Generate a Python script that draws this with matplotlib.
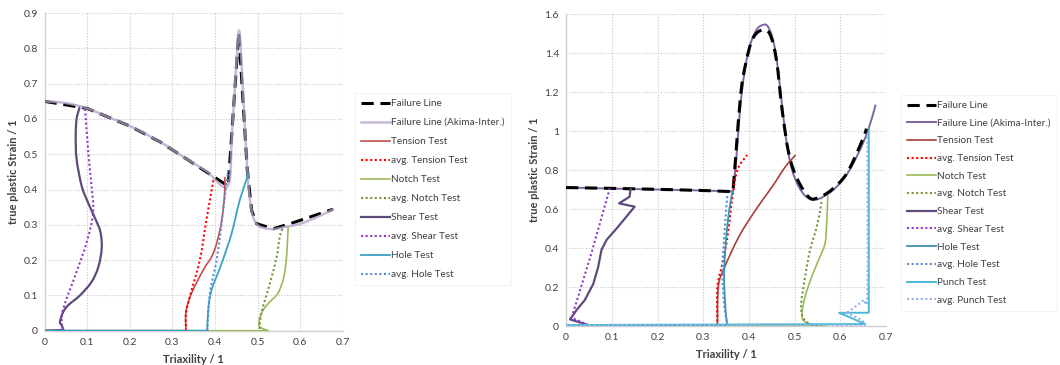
import matplotlib
matplotlib.use("Agg")
import matplotlib.pyplot as plt
from matplotlib.ticker import FuncFormatter, MultipleLocator
from matplotlib.path import Path
from matplotlib.patches import PathPatch

plt.rcParams['font.family'] = ['Lato', 'DejaVu Sans']

# ---------------- left panel data ----------------
L_fail_x = [0, 0.1, 0.2, 0.27, 0.333, 0.423, 0.431, 0.456, 0.476, 0.486, 0.498, 0.537, 0.576, 0.677]
L_fail_y = [0.65, 0.63, 0.58, 0.536, 0.487, 0.416, 0.41, 0.845, 0.454, 0.341, 0.303, 0.289, 0.303, 0.344]

L_akima_x = [0, 0.05, 0.1, 0.15, 0.2, 0.27, 0.333, 0.38, 0.43, 0.44, 0.45, 0.457, 0.465, 0.476, 0.486, 0.5,
             0.52, 0.54, 0.56, 0.6, 0.64, 0.68]
L_akima_y = [0.65, 0.645, 0.63, 0.605, 0.58, 0.536, 0.487, 0.452, 0.41, 0.56, 0.75, 0.85, 0.7, 0.454, 0.34, 0.3,
             0.29, 0.288, 0.293, 0.303, 0.322, 0.345]

L_tension_x = [0, 0.332, 0.332, 0.345, 0.372, 0.396, 0.4115, 0.419, 0.423, 0.423]
L_tension_y = [0, 0, 0.054, 0.106, 0.171, 0.219, 0.284, 0.341, 0.397, 0.435]
L_avg_tension_x = [0.332, 0.332, 0.341, 0.3645, 0.38, 0.397]
L_avg_tension_y = [0, 0.05, 0.097, 0.2, 0.314, 0.431]

L_notch_x = [0, 0.525, 0.5054, 0.504, 0.513, 0.529, 0.548, 0.562, 0.568, 0.570, 0.572]
L_notch_y = [0, 0, 0.011, 0.03, 0.058, 0.082, 0.106, 0.153, 0.209, 0.246, 0.294]
L_avg_notch_x = [0.505, 0.509, 0.529, 0.545, 0.552, 0.56]
L_avg_notch_y = [0.005, 0.05, 0.134, 0.209, 0.265, 0.294]

L_shear_x = [0, 0.044, 0.040, 0.036, 0.044, 0.056, 0.083, 0.110, 0.126, 0.134, 0.131, 0.118, 0.103, 0.087,
             0.075, 0.073, 0.075, 0.081, 0.083]
L_shear_y = [0, 0.002, 0.016, 0.025, 0.054, 0.073, 0.10, 0.138, 0.18, 0.233, 0.28, 0.32, 0.36, 0.41,
             0.487, 0.553, 0.60, 0.628, 0.633]
L_avg_shear_x = [0.044, 0.04, 0.044, 0.075, 0.099, 0.114, 0.110, 0.1025, 0.095]
L_avg_shear_y = [0.002, 0.02, 0.063, 0.167, 0.251, 0.336, 0.411, 0.506, 0.628]

L_hole_x = [0, 0.382, 0.384, 0.392, 0.4155, 0.439, 0.458, 0.480]
L_hole_y = [0, 0, 0.056, 0.115, 0.19, 0.275, 0.369, 0.449]
L_avg_hole_x = [0.382, 0.388, 0.404, 0.4155, 0.423, 0.431]
L_avg_hole_y = [0, 0.106, 0.2, 0.303, 0.378, 0.454]

# ---------------- right panel data ----------------
R_fail_x = [0, 0.1, 0.2, 0.3, 0.365, 0.371, 0.382, 0.393, 0.407, 0.425, 0.445, 0.46, 0.4725, 0.487, 0.505,
            0.53, 0.548, 0.58, 0.614, 0.645, 0.657]
R_fail_y = [0.71, 0.706, 0.701, 0.695, 0.689, 0.868, 1.19, 1.347, 1.467, 1.515, 1.50, 1.364, 1.108, 0.886, 0.757,
            0.663, 0.655, 0.697, 0.783, 0.937, 1.012]

R_akima_x = [0, 0.1, 0.2, 0.3, 0.365, 0.372, 0.38, 0.39, 0.40, 0.41, 0.42, 0.432, 0.44, 0.45, 0.46, 0.47,
             0.48, 0.49, 0.50, 0.51, 0.52, 0.53, 0.54, 0.55, 0.56, 0.58, 0.60, 0.62, 0.64, 0.66, 0.677]
R_akima_y = [0.71, 0.705, 0.70, 0.695, 0.69, 0.85, 1.1, 1.3, 1.42, 1.49, 1.53, 1.545, 1.54, 1.49, 1.38, 1.18,
             0.98, 0.84, 0.76, 0.71, 0.675, 0.655, 0.647, 0.65, 0.66, 0.69, 0.735, 0.80, 0.89, 1.0, 1.135]

R_tension_x = [0, 0.331, 0.333, 0.3457, 0.378, 0.4145, 0.4507, 0.4797, 0.502]
R_tension_y = [0, 0, 0.2015, 0.296, 0.458, 0.595, 0.714, 0.817, 0.877]
R_avg_tension_x = [0.331, 0.331, 0.342, 0.353, 0.364, 0.3746, 0.396]
R_avg_tension_y = [0, 0.2, 0.321, 0.458, 0.663, 0.80, 0.877]

R_notch_x = [0, 0.5667, 0.541, 0.5196, 0.516, 0.523, 0.5377, 0.556, 0.5667, 0.570, 0.572, 0.572]
R_notch_y = [0, 0, 0.005, 0.027, 0.068, 0.153, 0.256, 0.359, 0.427, 0.53, 0.64, 0.672]
R_avg_notch_x = [0.5486, 0.523, 0.514, 0.523, 0.534, 0.5486, 0.558, 0.559]
R_avg_notch_y = [0, 0.026, 0.10, 0.256, 0.393, 0.513, 0.624, 0.65]

R_shear_x = [0, 0.0486, 0.0087, 0.023, 0.041, 0.0594, 0.070, 0.0775, 0.0884, 0.1138, 0.15, 0.116, 0.139,
             0.1406, 0.143]
R_shear_y = [0, 0.005, 0.034, 0.082, 0.133, 0.215, 0.30, 0.39, 0.441, 0.509, 0.612, 0.629, 0.663, 0.697, 0.706]
R_avg_shear_x = [0.0486, 0.0123, 0.0553, 0.0957]
R_avg_shear_y = [0.005, 0.043, 0.372, 0.706]

R_hole_x = [0, 0.353, 0.349, 0.3457, 0.349, 0.3565, 0.364]
R_hole_y = [0, 0, 0.077, 0.248, 0.419, 0.59, 0.689]
R_avg_hole_x = [0.353, 0.3457, 0.342, 0.3457, 0.351, 0.353]
R_avg_hole_y = [0, 0.111, 0.282, 0.453, 0.624, 0.675]

R_punch_x = [0, 0.654, 0.597, 0.662, 0.662]
R_punch_y = [0.005, 0.010, 0.068, 0.068, 1.01]
R_avg_punch_x = [0, 0.654, 0.654, 0.639, 0.612, 0.617, 0.632, 0.65, 0.659, 0.659]
R_avg_punch_y = [0.005, 0.005, 0.015, 0.04, 0.068, 0.073, 0.099, 0.133, 0.185, 0.99]

# ---------------- styling ----------------
C_TEXT = '#404040'
C_FAIL = '#000000'
C_TENSION = '#c0504d'
C_AVG_TENSION = '#ff0000'
C_NOTCH = '#9bbb59'
C_AVG_NOTCH = '#77933c'
C_SHEAR = '#604a7b'
C_AVG_SHEAR = '#8e3cc8'
C_HOLE = '#3aa3c4'
C_AVG_HOLE = '#558ed5'
C_PUNCH = '#4bb8d8'
C_AVG_PUNCH = '#8eb4e3'

DASH = (0, (4.0, 2.2))
DOT = (0, (1, 1.2))


def series(ax, xs, ys, label, color, lw, ls='-', smooth=True, straight=0, zorder=3, alpha=1.0):
    """Draw a series as a smoothed (Catmull-Rom / Bezier) line; the first
    `straight` segments are kept as straight lines."""
    pts = list(zip(xs, ys))
    n = len(pts)
    verts = [pts[0]]
    codes = [Path.MOVETO]
    for i in range(n - 1):
        p1, p2 = pts[i], pts[i + 1]
        if not smooth or i < straight:
            verts.append(p2)
            codes.append(Path.LINETO)
            continue
        p0 = pts[i - 1] if i - 1 >= straight else p1
        p3 = pts[i + 2] if i + 2 < n else p2
        c1 = (p1[0] + (p2[0] - p0[0]) / 6.0, p1[1] + (p2[1] - p0[1]) / 6.0)
        c2 = (p2[0] - (p3[0] - p1[0]) / 6.0, p2[1] - (p3[1] - p1[1]) / 6.0)
        verts += [c1, c2, p2]
        codes += [Path.CURVE4] * 3
    patch = PathPatch(Path(verts, codes), fill=False, edgecolor=color, lw=lw, linestyle=ls,
                      zorder=zorder, alpha=alpha, capstyle='butt', joinstyle='round')
    ax.add_patch(patch)
    ax.plot([], [], color=color, lw=lw, linestyle=ls, alpha=alpha, label=label)


def style_axis(ax, xmax, ymax, ystep):
    ax.set_xlim(0, xmax)
    ax.set_ylim(0, ymax)
    ax.xaxis.set_major_locator(MultipleLocator(0.1))
    ax.yaxis.set_major_locator(MultipleLocator(ystep))
    fmt = FuncFormatter(lambda v, p: ('%.1f' % v).rstrip('0').rstrip('.') if v else '0')
    ax.xaxis.set_major_formatter(fmt)
    ax.yaxis.set_major_formatter(fmt)
    ax.grid(True, linestyle=(0, (1, 1.5)), color='#c8c8c8', linewidth=0.8)
    ax.set_axisbelow(True)
    for s in ('top', 'right'):
        ax.spines[s].set_visible(False)
    for s in ('left', 'bottom'):
        ax.spines[s].set_color('#d0d0d0')
        ax.spines[s].set_linewidth(1.0)
    ax.tick_params(length=0, labelsize=7.5, labelcolor=C_TEXT, pad=5)
    ax.set_xlabel('Triaxility / 1', fontsize=8, fontweight='bold', color=C_TEXT, labelpad=5)
    ax.set_ylabel('true plastic Strain / 1', fontsize=8, fontweight='bold', color=C_TEXT, labelpad=3)


fig = plt.figure(figsize=(10.6, 3.65), dpi=100)
axL = fig.add_axes([0.0421, 0.0940, 0.2812, 0.8700])
axR = fig.add_axes([0.5340, 0.1068, 0.3020, 0.8548])
style_axis(axL, 0.7, 0.9, 0.1)
style_axis(axR, 0.7, 1.6, 0.2)

# left panel
series(axL, L_fail_x, L_fail_y, 'Failure Line', C_FAIL, 2.2, DASH, smooth=False, zorder=3)
series(axL, L_akima_x, L_akima_y, 'Failure Line (Akima-Inter.)', '#b3a2c7', 1.8, zorder=4, alpha=0.75)
series(axL, L_tension_x, L_tension_y, 'Tension Test', C_TENSION, 1.2, straight=1, zorder=5)
series(axL, L_avg_tension_x, L_avg_tension_y, 'avg. Tension Test', C_AVG_TENSION, 1.5, DOT, zorder=5)
series(axL, L_notch_x, L_notch_y, 'Notch Test', C_NOTCH, 1.2, straight=1, zorder=5)
series(axL, L_avg_notch_x, L_avg_notch_y, 'avg. Notch Test', C_AVG_NOTCH, 1.5, DOT, zorder=5)
series(axL, L_shear_x, L_shear_y, 'Shear Test', C_SHEAR, 1.6, straight=1, zorder=5)
series(axL, L_avg_shear_x, L_avg_shear_y, 'avg. Shear Test', C_AVG_SHEAR, 1.5, DOT, zorder=5)
series(axL, L_hole_x, L_hole_y, 'Hole Test', C_HOLE, 1.3, straight=1, zorder=6)
series(axL, L_avg_hole_x, L_avg_hole_y, 'avg. Hole Test', C_AVG_HOLE, 1.5, DOT, zorder=6)

# right panel
series(axR, R_fail_x, R_fail_y, 'Failure Line', C_FAIL, 2.2, DASH, straight=4, zorder=4)
series(axR, R_akima_x, R_akima_y, 'Failure Line (Akima-Inter.)', '#8064a2', 1.4, straight=4, zorder=3)
series(axR, R_tension_x, R_tension_y, 'Tension Test', '#a5403d', 1.2, straight=1, zorder=5)
series(axR, R_avg_tension_x, R_avg_tension_y, 'avg. Tension Test', C_AVG_TENSION, 1.5, DOT, zorder=5)
series(axR, R_notch_x, R_notch_y, 'Notch Test', C_NOTCH, 1.2, straight=1, zorder=5)
series(axR, R_avg_notch_x, R_avg_notch_y, 'avg. Notch Test', C_AVG_NOTCH, 1.5, DOT, zorder=5)
series(axR, R_shear_x, R_shear_y, 'Shear Test', C_SHEAR, 1.6, smooth=False, zorder=5)
series(axR, R_avg_shear_x, R_avg_shear_y, 'avg. Shear Test', C_AVG_SHEAR, 1.5, DOT, smooth=False, zorder=5)
series(axR, R_hole_x, R_hole_y, 'Hole Test', '#3b93ae', 1.3, straight=1, zorder=6)
series(axR, R_avg_hole_x, R_avg_hole_y, 'avg. Hole Test', C_AVG_HOLE, 1.5, DOT, zorder=6)
series(axR, R_punch_x, R_punch_y, 'Punch Test', C_PUNCH, 1.4, smooth=False, zorder=6)
series(axR, R_avg_punch_x, R_avg_punch_y, 'avg. Punch Test', C_AVG_PUNCH, 1.5, DOT, straight=2, zorder=7)

leg_kw = dict(loc='upper left', fontsize=7.2, frameon=True, fancybox=False, edgecolor='#f0f0f0',
              handlelength=2.9, handletextpad=0.1, borderpad=0.6, labelcolor=C_TEXT)
legL = axL.legend(bbox_to_anchor=(350 / 1060, 1 - 88 / 365), bbox_transform=fig.transFigure,
                  labelspacing=1.0, **leg_kw)
legR = axR.legend(bbox_to_anchor=(896 / 1060, 1 - 90 / 365), bbox_transform=fig.transFigure,
                  labelspacing=0.87, **leg_kw)
for leg in (legL, legR):
    leg.get_frame().set_linewidth(0.8)

fig.savefig('out.png', dpi=100)
